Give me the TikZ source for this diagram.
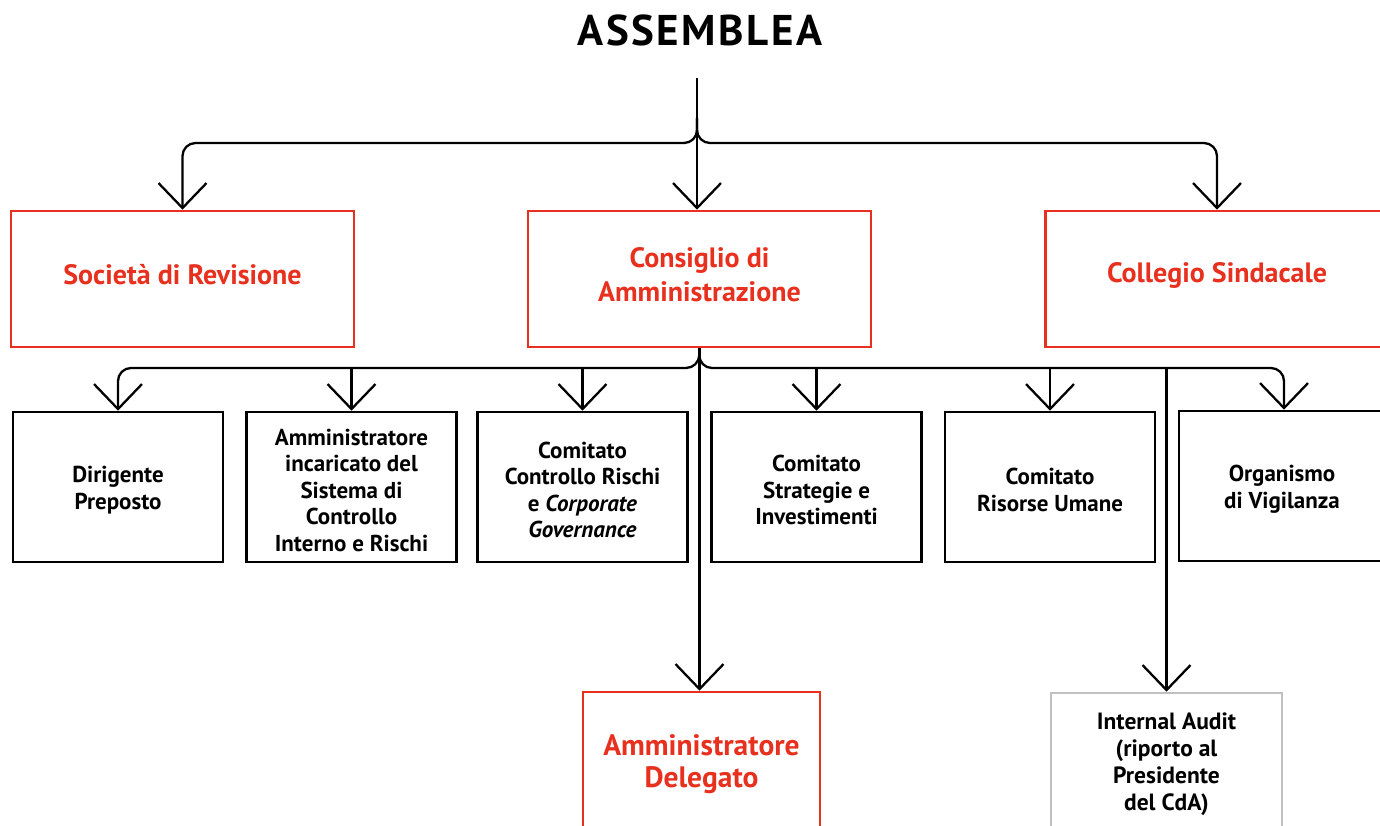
\documentclass[tikz,border=0pt]{standalone}
\usepackage{fontspec}
\setmainfont{PT Sans}
\usetikzlibrary{arrows.meta}
\definecolor{brandred}{RGB}{232,48,30}
\definecolor{auditgray}{RGB}{192,192,192}
\begin{document}
\begin{tikzpicture}[x=1pt,y=-1pt,
  conn/.style={draw=black, line width=2.3pt, -{Straight Barb[length=25pt,width=48pt]}},
  topbox/.style={draw=brandred, line width=2.6pt, minimum width=343pt, minimum height=136pt, inner sep=0pt},
  subbox/.style={draw=black, line width=2.6pt, minimum width=210pt, minimum height=150pt, inner sep=0pt},
  adbox/.style={draw=brandred, line width=2.6pt, minimum width=237pt, minimum height=142pt, inner sep=0pt},
  iabox/.style={draw=auditgray, line width=2.6pt, minimum width=231pt, minimum height=140pt, inner sep=0pt},
  toptext/.style={text=brandred, font=\bfseries\fontsize{28}{34}\selectfont, align=center, inner sep=0pt},
  subtext/.style={text=black, font=\bfseries\fontsize{23}{26.5}\selectfont, align=center, inner sep=0pt},
  adtext/.style={text=brandred, font=\bfseries\fontsize{29.5}{32}\selectfont, align=center, inner sep=0pt},
  iatext/.style={text=black, font=\bfseries\fontsize{23.5}{27}\selectfont, align=center, inner sep=0pt},
  titlestyle/.style={font=\bfseries\fontsize{43}{50}\selectfont\addfontfeatures{LetterSpace=6}, text=black}
]
\useasboundingbox (0,0) rectangle (1380,825);
\clip (0,0) rectangle (1380,825);
\fill[white] (0,0) rectangle (1380,825);

\node[titlestyle] (title) at (700,30) {ASSEMBLEA};

% row 1
\node[topbox] (soc) at (182.5,279) {};
\node[topbox] (cda) at (699.5,279) {};
\node[topbox] (cs) at (1217,279) {};
\node[toptext] (socT) at (182.5,275) {Società di Revisione};
\node[toptext] (cdaT) at (699.5,275) {Consiglio di\\Amministrazione};
\node[toptext] (csT) at (1217,275) {Collegio Sindacale};

% row 2
\node[subbox] (dir) at (118,487) {};
\node[subbox] (aic) at (351.5,487) {};
\node[subbox] (ccr) at (582.5,487) {};
\node[subbox] (csi) at (816.5,487) {};
\node[subbox] (cru) at (1050,487) {};
\node[subbox] (odv) at (1284,486) {};
\node[subtext] (dirT) at (118,490) {Dirigente\\Preposto};
\node[subtext] (aicT) at (351.5,490) {Amministratore\\incaricato del\\Sistema di\\Controllo\\Interno e Rischi};
\node[subtext] (ccrT) at (582.5,490) {Comitato\\Controllo Rischi\\e \textit{Corporate}\\\textit{Governance}};
\node[subtext] (csiT) at (816.5,490) {Comitato\\Strategie e\\Investimenti};
\node[subtext] (cruT) at (1050,490) {Comitato\\Risorse Umane};
\node[subtext] (odvT) at (1282,489) {Organismo\\di Vigilanza};

% row 3
\node[adbox] (ad) at (701.5,763) {};
\node[iabox] (ia) at (1166.5,763) {};
\node[adtext] (adT) at (701.5,764) {Amministratore\\Delegato};
\node[iatext] (iaT) at (1166.5,764) {Internal Audit\\(riporto al\\Presidente\\del CdA)};

% top connectors
\coordinate (top) at (697,78);
\coordinate (hB) at (697,118);
\coordinate (hA) at (697,143);
\draw[conn] (top) -- (top |- cda.north);
\draw[conn, rounded corners=13pt] (hB) -- (hA) -- (hA -| soc.north) -- (soc.north);
\draw[conn, rounded corners=13pt] (hB) -- (hA) -- (hA -| cs.north) -- (cs.north);

% second level connectors
\coordinate (k) at (699,368);
\draw[conn] (cda.south) -- (cda.south |- ad.north);
\draw[conn, rounded corners=13pt] (cda.south) -- (k) -- (k -| dir.north) -- (dir.north);
\draw[conn, rounded corners=13pt] (cda.south) -- (k) -- (k -| odv.north) -- (odv.north);
\draw[conn] (k -| aic.north) -- (aic.north);
\draw[conn] (k -| ccr.north) -- (ccr.north);
\draw[conn] (k -| csi.north) -- (csi.north);
\draw[conn] (k -| cru.north) -- (cru.north);
\draw[conn] (k -| ia.north) -- (ia.north);
\end{tikzpicture}
\end{document}
